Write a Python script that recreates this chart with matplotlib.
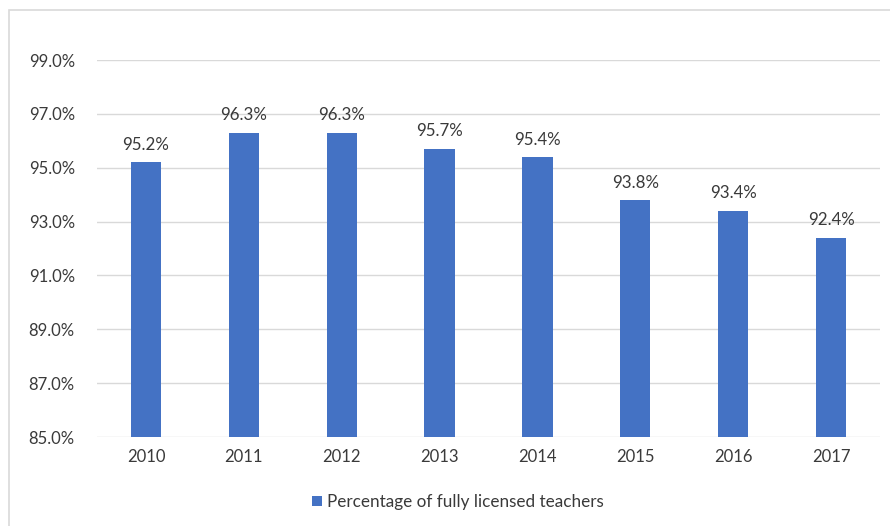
import matplotlib
matplotlib.use("Agg")
import matplotlib.pyplot as plt
from matplotlib.patches import Rectangle

years = ["2010", "2011", "2012", "2013", "2014", "2015", "2016", "2017"]
values = [95.2, 96.3, 96.3, 95.7, 95.4, 93.8, 93.4, 92.4]
yticks = [85, 87, 89, 91, 93, 95, 97, 99]
series_name = "Percentage of fully licensed teachers"

plt.rcParams['font.family'] = ['Lato', 'DejaVu Sans']
text_color = "#3A3A3A"
bar_color = "#4472C4"

fig = plt.figure(figsize=(8.90, 5.26), dpi=100)
fig.patches.append(Rectangle((9/890, -0.05), 1.2, 1 - 10/526 + 0.05,
                             transform=fig.transFigure, fill=False,
                             edgecolor="#D9D9D9", linewidth=1.2))
ax = fig.add_axes([97/890, 1 - 437/526, (880 - 97)/890, (437 - 60)/526])

x = range(len(years))
bars = ax.bar(x, values, width=0.31, color=bar_color, zorder=3,
              label=series_name)
ax.set_ylim(85, 99)
ax.set_xlim(-0.5, len(years) - 0.5)
ax.set_yticks(yticks)
ax.set_yticklabels([f"{v:.1f}%" for v in yticks])
ax.set_xticks(list(x))
ax.set_xticklabels(years)
ax.grid(axis="y", color="#D9D9D9", linewidth=1, zorder=0)
for s in ax.spines.values():
    s.set_visible(False)
ax.tick_params(axis="both", length=0, colors=text_color, labelsize=12)
ax.tick_params(axis="y", pad=16)
ax.tick_params(axis="x", pad=9)
for xi, v in zip(x, values):
    ax.text(xi, v + 0.35, f"{v:.1f}%", ha="center", va="bottom",
            fontsize=12.2, color=text_color)

fig.legend(handles=[bars], labels=[series_name], loc="center",
           bbox_to_anchor=(458/890, 1 - 502/526), frameon=False,
           fontsize=12.3, labelcolor=text_color, handlelength=0.55,
           handleheight=0.55, handletextpad=0.3)

fig.savefig("out.png", dpi=100)
